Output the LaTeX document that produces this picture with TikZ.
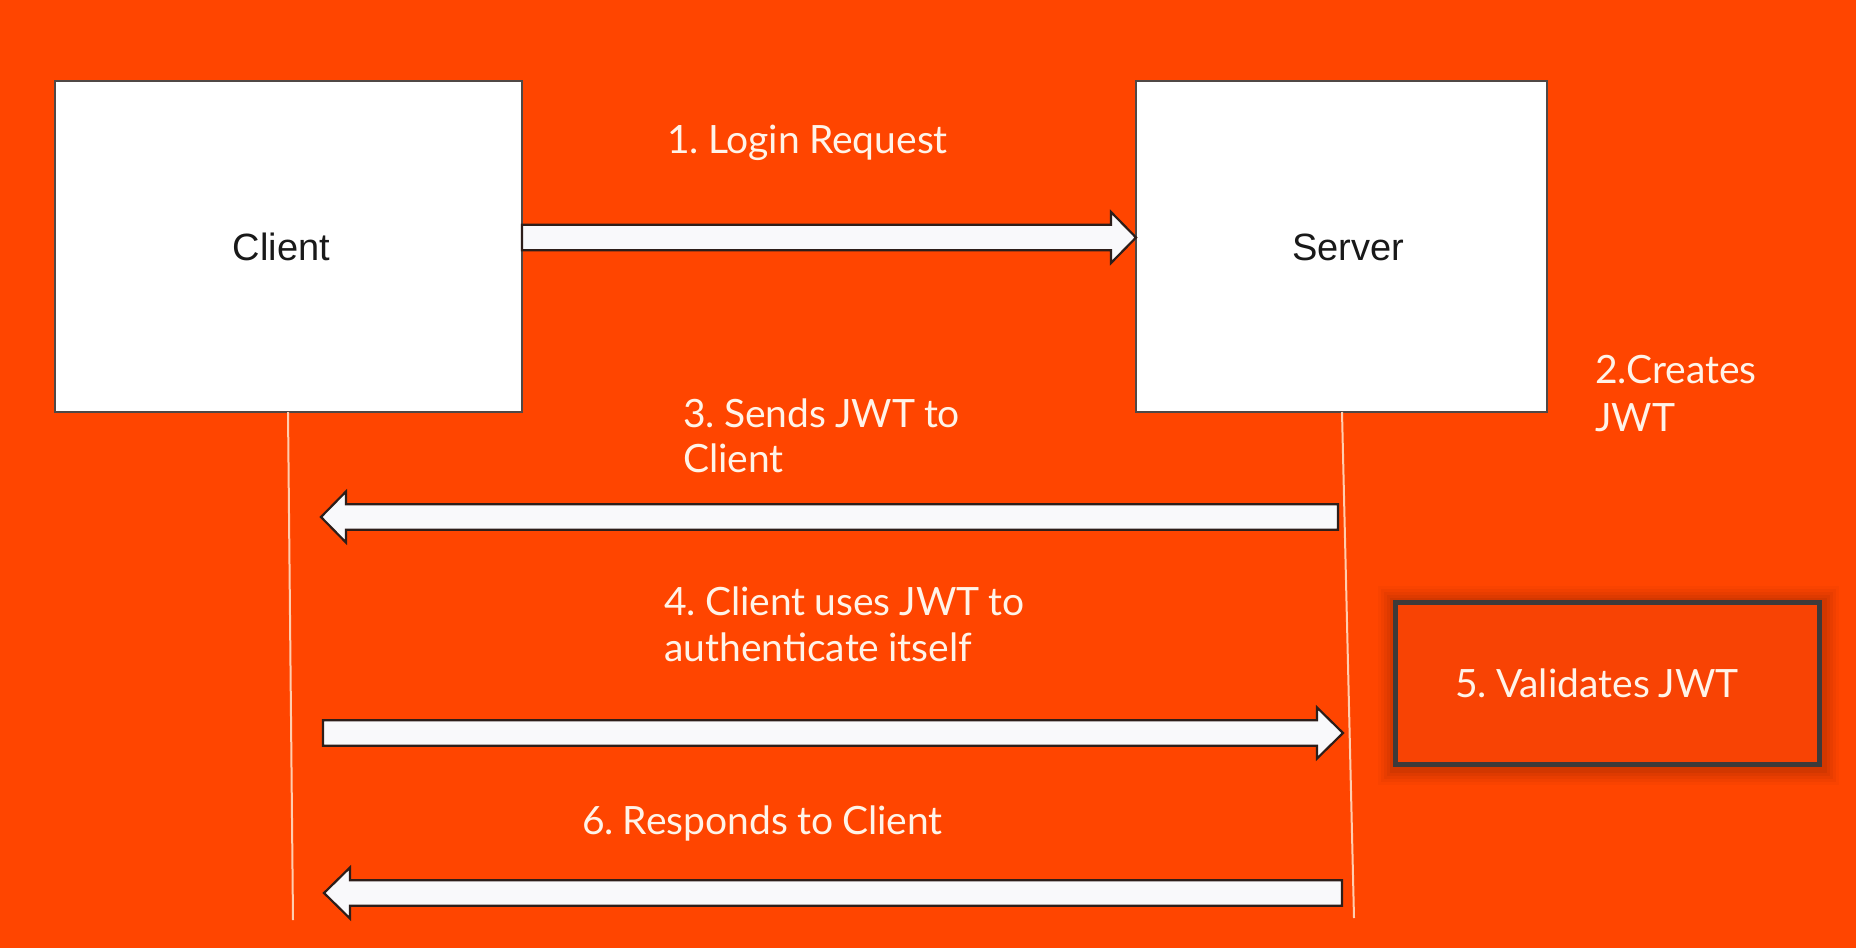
\documentclass[tikz,border=0pt]{standalone}
\usepackage{fontspec}
\setmainfont{Lato}[WordSpace=0.9]
\newfontfamily\arialfont{Liberation Sans}
\frenchspacing
\definecolor{bgorange}{RGB}{255,69,0}
\definecolor{boxorange}{RGB}{248,67,4}
\definecolor{labelwhite}{RGB}{255,243,232}
\definecolor{lifecol}{RGB}{255,205,175}
\definecolor{arrowedge}{RGB}{45,30,26}
\definecolor{boxedge}{RGB}{80,72,70}
\definecolor{valedge}{RGB}{62,58,58}
\definecolor{arrowfill}{RGB}{249,249,251}
\newcommand{\blockarr}[5]{% name, tail x, tip x, center y, signed head length
  \path (#2,#4) coordinate (#1tail) (#3,#4) coordinate (#1tip);
  \draw[blockarrow] (#2,{#4-12.8}) -- ({#3-(#5)},{#4-12.8}) -- ({#3-(#5)},{#4-25.5})
    -- (#1tip) -- ({#3-(#5)},{#4+25.5}) -- ({#3-(#5)},{#4+12.8}) -- (#2,{#4+12.8}) -- cycle;}
\tikzset{
  actorbox/.style={draw=boxedge, line width=2pt, fill=white},
  actortext/.style={font=\arialfont\fontsize{38}{44}\selectfont, text=black!90, anchor=base, inner sep=0pt},
  steplabel/.style={font=\frenchspacing\fontsize{39}{45}\selectfont, text=labelwhite, anchor=base west, inner sep=0pt},
  lifeline/.style={draw=lifecol, line width=2pt},
  blockarrow/.style={draw=arrowedge, line width=2.2pt, fill=arrowfill, line join=miter},
}
\begin{document}
\begin{tikzpicture}[x=1pt,y=-1pt]
  \fill[bgorange] (0,0) rectangle (1856,948);
  \useasboundingbox (0,0) rectangle (1856,948);
  % actor boxes
  \draw[actorbox] (54.5,80.5) rectangle (522,411.5);
  \draw[actorbox] (1136,80.5) rectangle (1547,411.5);
  \node[actortext] (client) at (281.5,260) {Client};
  \node[actortext] (server) at (1348,260) {Server};
  % lifelines
  \coordinate (cl1) at (288,412);
  \coordinate (cl2) at (293,920);
  \coordinate (sl1) at (1342,412);
  \coordinate (sl2) at (1354,918);
  \draw[lifeline] (cl1) -- (cl2);
  \draw[lifeline] (sl1) -- (sl2);
  % arrows
  \blockarr{aone}{522}{1136}{237.5}{25}
  \blockarr{athree}{1338}{321}{517}{-25}
  \blockarr{afour}{323}{1343}{733}{26}
  \blockarr{asix}{1342}{324}{893}{-26}
  % validates box with soft shadow
  \foreach \d/\o in {16/0.025,13/0.03,10/0.035,7/0.04,4/0.05}{
    \fill[black,opacity=\o] ({1393-\d+1},{600-\d+2}) rectangle ({1822+\d+1},{767+\d+2});
  }
  \draw[draw=valedge, line width=5pt, fill=boxorange] (1395.5,602.5) rectangle (1819.5,764.5);
  \node[steplabel, anchor=base] (l5) at (1597,697) {5. Validates JWT};
  % step labels
  \node[steplabel] (l1) at (667,153) {1. Login Request};
  \node[steplabel] (l2a) at (1595,383) {2.Creates};
  \node[steplabel] (l2b) at (1595,431) {JWT};
  \node[steplabel] (l3a) at (683,427) {3. Sends JWT to};
  \node[steplabel] (l3b) at (683,472) {Client};
  \node[steplabel] (l4a) at (664,615) {4. Client uses JWT to};
  \node[steplabel] (l4b) at (664,661) {authenticate itself};
  \node[steplabel] (l6) at (582,834) {6. Responds to Client};
\end{tikzpicture}
\end{document}
